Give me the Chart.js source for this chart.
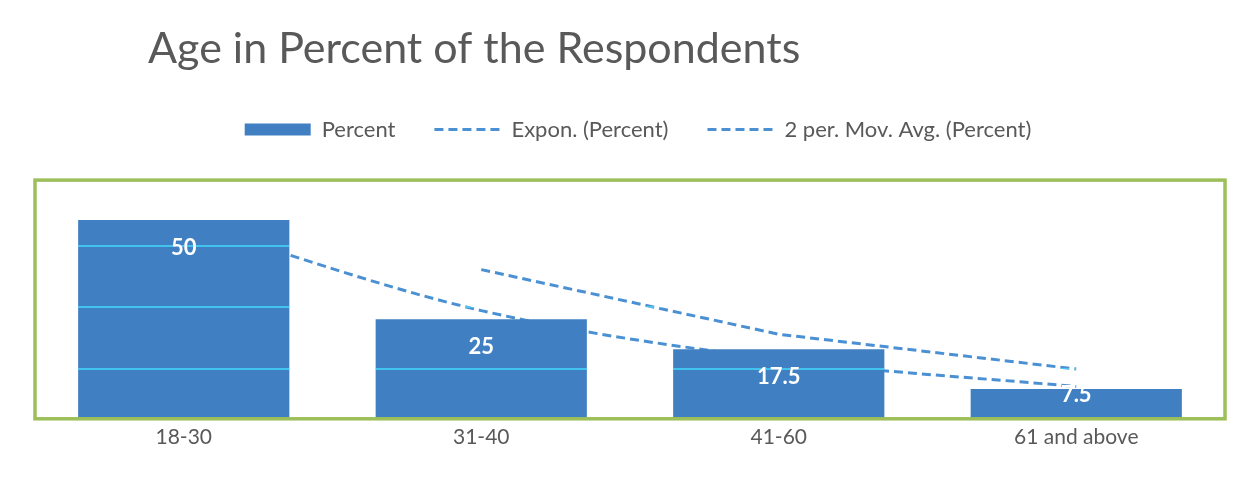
<!DOCTYPE html>
<html>
<head>
<meta charset="utf-8">
<script src="https://cdn.jsdelivr.net/npm/chart.js@4/dist/chart.umd.min.js"></script>
<style>
  html, body { margin: 0; padding: 0; background: #fff; }
  #wrap { width: 1256px; height: 495px; }
</style>
</head>
<body>
<div id="wrap"><canvas id="chart" width="1256" height="495"></canvas></div>
<script>
const ageGroups = ['18-30', '31-40', '41-60', '61 and above'];
const percentValues = [50, 25, 17.5, 7.5];
const exponValues = [49.5, 27.2, 14.9, 8.1];
const movAvgValues = [null, 37.5, 21.25, 12.5];
const gridValues = [12.5, 28, 43.5];

const barBlue = '#4080c2';
const lineBlue = '#4a90d2';
const textGrey = '#595959';

const chartDecor = {
    id: 'chartDecor',
    afterLayout: (chart) => {
        // title sits indented, legend a touch right of centre
        chart.titleBlock.left += 113;
        chart.legend.left += 8;
        chart.legend.right += 8;
    },
    beforeDraw: (chart) => {
        const ctx = chart.ctx;
        ctx.save();
        ctx.fillStyle = '#ffffff';
        ctx.fillRect(0, 0, chart.width, chart.height);
        ctx.restore();
    },
    afterDatasetsDraw: (chart) => {
        const ctx = chart.ctx;
        const meta = chart.getDatasetMeta(0);
        ctx.save();
        ctx.fillStyle = '#ffffff';
        ctx.font = 'bold 22px Lato';
        ctx.textAlign = 'center';
        ctx.textBaseline = 'middle';
        meta.data.forEach((bar, i) => {
            const y = Math.min(bar.y + 28, bar.base - 24);
            ctx.fillText(String(percentValues[i]), bar.x, y);
        });
        ctx.restore();
        // grid lines only show up across the bars
        ctx.globalCompositeOperation = 'lighten';
    },
    afterDraw: (chart) => {
        const ctx = chart.ctx;
        const a = chart.chartArea;
        ctx.globalCompositeOperation = 'source-over';
        ctx.save();
        ctx.strokeStyle = '#9cbf5a';
        ctx.lineWidth = 3.5;
        ctx.strokeRect(a.left, a.top, a.right - a.left, a.bottom - a.top);
        ctx.restore();
    }
};

const config = {
    type: 'bar',
    data: {
        labels: ageGroups,
        datasets: [
            {
                type: 'bar',
                label: 'Percent',
                data: percentValues,
                backgroundColor: barBlue,
                borderWidth: 0,
                barPercentage: 0.71,
                categoryPercentage: 1,
                order: 0
            },
            {
                type: 'line',
                label: 'Expon. (Percent)',
                data: exponValues,
                borderColor: lineBlue,
                backgroundColor: lineBlue,
                borderWidth: 3,
                borderDash: [9, 5],
                pointRadius: 0,
                cubicInterpolationMode: 'monotone',
                fill: false,
                order: 1
            },
            {
                type: 'line',
                label: '2 per. Mov. Avg. (Percent)',
                data: movAvgValues,
                borderColor: lineBlue,
                backgroundColor: lineBlue,
                borderWidth: 3,
                borderDash: [9, 5],
                pointRadius: 0,
                tension: 0,
                fill: false,
                order: 1
            }
        ]
    },
    options: {
        responsive: false,
        animation: false,
        layout: {
            padding: { left: 35, right: 31, top: 0, bottom: 39 }
        },
        plugins: {
            title: {
                display: true,
                text: 'Age in Percent of the Respondents',
                align: 'start',
                color: textGrey,
                font: { family: 'Lato', size: 43, weight: 'normal', lineHeight: 1.2 },
                padding: { top: 23, bottom: 5 }
            },
            // empty spacer between the legend and the plot
            subtitle: {
                display: true,
                text: '',
                weight: 500,
                font: { size: 10, lineHeight: 1 },
                padding: { top: 0, bottom: 19.5 }
            },
            legend: {
                display: true,
                position: 'top',
                labels: {
                    color: textGrey,
                    font: { family: 'Lato', size: 22 },
                    usePointStyle: true,
                    pointStyleWidth: 66,
                    boxWidth: 66,
                    boxHeight: 12,
                    padding: 39,
                    generateLabels: (chart) => chart.data.datasets.map((ds, i) => ({
                        text: ds.label,
                        fillStyle: ds.backgroundColor,
                        strokeStyle: ds.borderColor || ds.backgroundColor,
                        lineWidth: ds.type === 'line' ? 3 : 0,
                        lineDash: ds.borderDash || [],
                        pointStyle: ds.type === 'line' ? 'line' : 'rect',
                        fontColor: textGrey,
                        hidden: false,
                        datasetIndex: i
                    }))
                }
            },
            tooltip: { enabled: false }
        },
        scales: {
            x: {
                grid: { display: false, drawTicks: false },
                border: { display: false },
                ticks: {
                    color: textGrey,
                    font: { family: 'Lato', size: 21 },
                    padding: 6
                }
            },
            y: {
                min: 0,
                max: 60,
                afterBuildTicks: (scale) => {
                    scale.ticks = gridValues.map(v => ({ value: v }));
                },
                ticks: { display: false },
                border: { display: false },
                grid: {
                    z: 1,
                    color: '#3cc4ee',
                    lineWidth: 2,
                    drawTicks: false
                }
            }
        }
    },
    plugins: [chartDecor]
};

new Chart(document.getElementById('chart'), config);
</script>
</body>
</html>
